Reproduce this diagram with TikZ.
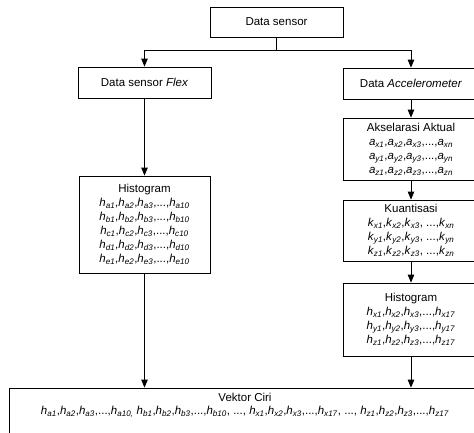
\documentclass[tikz,border=0pt]{standalone}
\usepackage{fontspec}
\setmainfont{Liberation Sans}
\usetikzlibrary{arrows.meta}

% italic variable with italic subscript
\newcommand{\vr}[2]{\textit{#1}\textsubscript{\textit{#2}}}

\begin{document}
\begin{tikzpicture}[x=1pt,y=-1pt,
    box/.style={draw, line width=0.8pt, align=center, inner sep=0pt,
        font=\fontsize{11.5}{14}\selectfont},
    link/.style={line width=0.8pt, -{Triangle[length=8pt,width=6.5pt]}}]
    \useasboundingbox (0,0) rectangle (474,432);
    \clip (0,0) rectangle (474,432);

    \node[box, minimum width=133pt, minimum height=30pt] (sensor) at (276.5,22) {Data sensor};

    \node[box, minimum width=133pt, minimum height=31pt] (flex) at (144.5,82.5) {Data sensor \textit{Flex}};
    \node[box, minimum width=131pt, minimum height=97pt] (histl) at (144.5,224.5) {Histogram\\
        \vr{h}{a1},\vr{h}{a2},\vr{h}{a3},...,\vr{h}{a10}\\
        \vr{h}{b1},\vr{h}{b2},\vr{h}{b3},...,\vr{h}{b10}\\
        \vr{h}{c1},\vr{h}{c2},\vr{h}{c3},...,\vr{h}{c10}\\
        \vr{h}{d1},\vr{h}{d2},\vr{h}{d3},...,\vr{h}{d10}\\
        \vr{h}{e1},\vr{h}{e2},\vr{h}{e3},...,\vr{h}{e10}};

    \node[box, minimum width=136pt, minimum height=31pt] (accel) at (411,83.5) {Data \textit{Accelerometer}};
    \node[box, minimum width=136pt, minimum height=62pt] (aktual) at (411,149) {Akselarasi Aktual\\
        \vr{a}{x1},\vr{a}{x2},\vr{a}{x3},...,\vr{a}{xn}\\
        \vr{a}{y1},\vr{a}{y2},\vr{a}{y3},...,\vr{a}{yn}\\
        \vr{a}{z1},\vr{a}{z2},\vr{a}{z3},...,\vr{a}{zn}};
    \node[box, minimum width=136pt, minimum height=61pt] (kuant) at (411,230.5) {Kuantisasi\\
        \vr{k}{x1},\vr{k}{x2},\vr{k}{x3}, ...,\vr{k}{xn}\\
        \vr{k}{y1},\vr{k}{y2},\vr{k}{y3}, ...,\vr{k}{yn}\\
        \vr{k}{z1},\vr{k}{z2},\vr{k}{z3}, ...,\vr{k}{zn}};
    \node[box, minimum width=136pt, minimum height=73pt] (histr) at (411,319.5) {Histogram\\
        \vr{h}{x1},\vr{h}{x2},\vr{h}{x3},...,\vr{h}{x17}\\
        \vr{h}{y1},\vr{h}{y2},\vr{h}{y3},...,\vr{h}{y17}\\
        \vr{h}{z1},\vr{h}{z2},\vr{h}{z3},...,\vr{h}{z17}};

    \node[box, minimum width=472pt, minimum height=54pt] (vektor) at (245,415) {Vektor Ciri\\[-1pt]
        \vr{h}{a1},\vr{h}{a2},\vr{h}{a3},...,\vr{h}{a10,} \vr{h}{b1},\vr{h}{b2},\vr{h}{b3},...,\vr{h}{b10}, ..., \vr{h}{x1},\vr{h}{x2},\vr{h}{x3},...,\vr{h}{x17}, ..., \vr{h}{z1},\vr{h}{z2},\vr{h}{z3},...,\vr{h}{z17}\\[8pt]};

    % split from the sensor box
    \draw[link] (sensor.south) -- ++(0,13) -| (flex.north);
    \draw[link] (sensor.south) -- ++(0,13) -| (accel.north);

    \draw[link] (flex) -- (histl);
    \draw[link] (histl.south) -- (histl.south |- vektor.north);

    \draw[link] (accel) -- (aktual);
    \draw[link] (aktual) -- (kuant);
    \draw[link] (kuant) -- (histr);
    \draw[link] (histr) -- (histr.south |- vektor.north);
\end{tikzpicture}
\end{document}
